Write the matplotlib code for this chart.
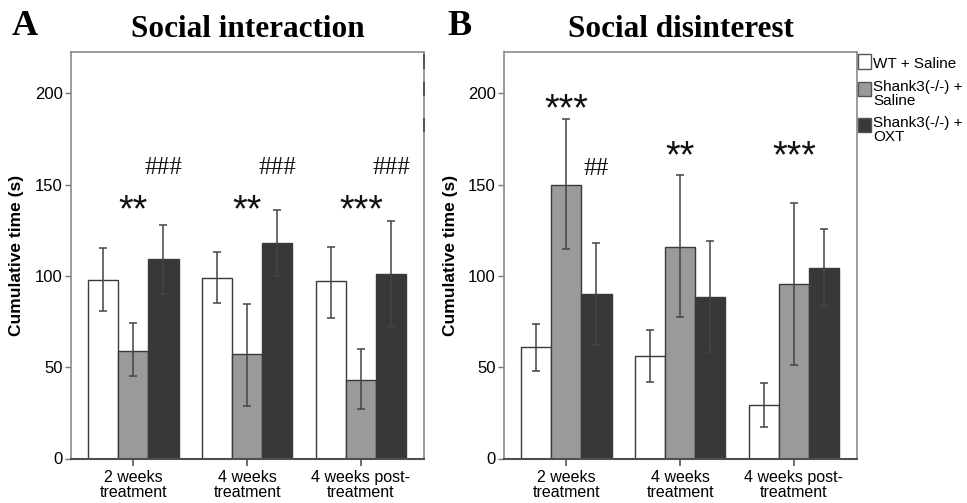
import numpy as np
import matplotlib
matplotlib.use("Agg")
import matplotlib.pyplot as plt
from matplotlib.patches import Rectangle

# Figure size in pixels (dpi 100)
W, H = 967, 503

SANS = "Liberation Sans"
SERIF = "Liberation Serif"

# ---- data ----
groups = ["2 weeks\ntreatment", "4 weeks\ntreatment", "4 weeks post-\ntreatment"]
legend_labels = ["WT + Saline", "Shank3(-/-) +\nSaline", "Shank3(-/-) +\nOXT"]
bar_colors = ["#ffffff", "#9a9a9a", "#383838"]

# Social interaction: means and error bar ends (low / high)
int_wt = [98, 99, 97]
int_wt_lo = [81, 85, 77]
int_wt_hi = [115, 113, 116]
int_sal = [59, 57, 43]
int_sal_lo = [45, 29, 27]
int_sal_hi = [74, 84.5, 60]
int_oxt = [109, 118, 101]
int_oxt_lo = [90, 100, 72]
int_oxt_hi = [128, 136, 130]

# Social disinterest
dis_wt = [61, 56, 29.5]
dis_wt_lo = [48, 42, 17]
dis_wt_hi = [73.5, 70.5, 41.5]
dis_sal = [150, 116, 95.5]
dis_sal_lo = [114.5, 77.7, 51]
dis_sal_hi = [186, 155, 140]
dis_oxt = [90, 88.7, 104.5]
dis_oxt_lo = [62, 58.4, 83.4]
dis_oxt_hi = [118, 119.3, 125.6]

# significance marks: stars over the group, hashes over the OXT bar
int_stars = ["**", "**", "***"]
int_stars_y = [141.6, 141.6, 141.6]
int_hash = ["###", "###", "###"]
int_hash_y = [160.4, 160.4, 160.4]

dis_stars = ["***", "**", "***"]
dis_stars_y = [196.9, 171.3, 171.3]
dis_hash = ["##", "", ""]
dis_hash_y = [159.8, 159.8, 159.8]

BAR_W = 0.265
YMAX = 222.6

fig = plt.figure(figsize=(W / 100, H / 100), dpi=100)


def px_axes(left, right, top, bottom):
    return fig.add_axes([left / W, 1 - bottom / H, (right - left) / W, (bottom - top) / H])


def draw_panel(ax, series, stars, stars_y, hashes, hashes_y):
    x = np.arange(len(groups))
    for k, (vals, lo, hi) in enumerate(series):
        vals = np.array(vals, float)
        yerr = [vals - np.array(lo), np.array(hi) - vals]
        ax.bar(x + (k - 1) * BAR_W, vals, BAR_W, color=bar_colors[k],
               edgecolor="#3a3a3a", linewidth=1.0, zorder=2)
        ax.errorbar(x + (k - 1) * BAR_W, vals, yerr=yerr, fmt="none",
                    ecolor="#444444", elinewidth=1.1, capsize=3, capthick=1.1, zorder=3)
    for i in range(len(groups)):
        ax.annotate(stars[i], (x[i], stars_y[i]), xytext=(0, -15.5), textcoords="offset points",
                    ha="center", va="baseline", fontsize=27, family=SANS, color="#111111")
        if hashes[i]:
            ax.annotate(hashes[i], (x[i] + BAR_W, hashes_y[i]), xytext=(0, -6),
                        textcoords="offset points", ha="center", va="baseline",
                        fontsize=18, family=SERIF, color="#111111")
    ax.set_xlim(-0.548, 2.555)
    ax.set_ylim(0, YMAX)
    ax.set_yticks([0, 50, 100, 150, 200])
    ax.set_xticks(x)
    ax.set_xticklabels(groups, fontsize=11.5, family=SANS, linespacing=1.0)
    for lab in ax.get_yticklabels():
        lab.set_fontsize(12)
        lab.set_family(SANS)
    ax.tick_params(axis="y", direction="out", length=4, width=1, color="#777777", pad=2)
    ax.tick_params(axis="x", direction="out", length=5, width=1.2, color="#555555", pad=3)
    for side in ["left", "top", "right"]:
        ax.spines[side].set_color("#8a8a8a")
        ax.spines[side].set_linewidth(1.2)
    ax.spines["bottom"].set_color("#505050")
    ax.spines["bottom"].set_linewidth(1.5)


ax_a = px_axes(71, 424, 52, 458.5)
draw_panel(ax_a,
           [(int_wt, int_wt_lo, int_wt_hi), (int_sal, int_sal_lo, int_sal_hi),
            (int_oxt, int_oxt_lo, int_oxt_hi)],
           int_stars, int_stars_y, int_hash, int_hash_y)

ax_b = px_axes(504, 857, 52, 458.5)
draw_panel(ax_b,
           [(dis_wt, dis_wt_lo, dis_wt_hi), (dis_sal, dis_sal_lo, dis_sal_hi),
            (dis_oxt, dis_oxt_lo, dis_oxt_hi)],
           dis_stars, dis_stars_y, dis_hash, dis_hash_y)

# titles, panel letters, y labels
for ax_left, letter_x, letter, title in [(71, 12, "A", "Social interaction"),
                                         (504, 447, "B", "Social disinterest")]:
    fig.text((ax_left + 176.5) / W, 1 - 36.7 / H, title, ha="center", va="baseline",
             fontsize=22.5, fontweight="bold", family=SERIF)
    fig.text(letter_x / W, 1 - 35 / H, letter, ha="left", va="baseline",
             fontsize=26, fontweight="bold", family=SERIF)
    fig.text((ax_left - 54) / W, 1 - 255 / H, "Cumulative time (s)", rotation=90,
             ha="center", va="center", fontsize=12.5, fontweight="bold", family=SANS)

# legend (drawn by hand so the patches sit on the first text line)
patch_rows = [(54.5, 68.5), (82, 96), (118, 132)]
text_base = [68.5, 91.5, 127.5]
LINE_PITCH = 13.2

for (top, bot), color, label, base in zip(patch_rows, bar_colors, legend_labels, text_base):
    fig.add_artist(Rectangle((857.5 / W, 1 - bot / H), 13.5 / W, (bot - top) / H,
                             transform=fig.transFigure, facecolor=color,
                             edgecolor="#555555", linewidth=1.0))
    for j, line in enumerate(label.split("\n")):
        fig.text(873 / W, 1 - (base + LINE_PITCH * j) / H, line, ha="left",
                 va="baseline", fontsize=11, family=SANS)
    # the left panel's legend is cut off at its frame: only the patch edges show
    fig.add_artist(Rectangle((423 / W, 1 - bot / H), 1.8 / W, (bot - top) / H,
                             transform=fig.transFigure, facecolor="#555555",
                             edgecolor="none"))

fig.savefig("out.png", dpi=100)
